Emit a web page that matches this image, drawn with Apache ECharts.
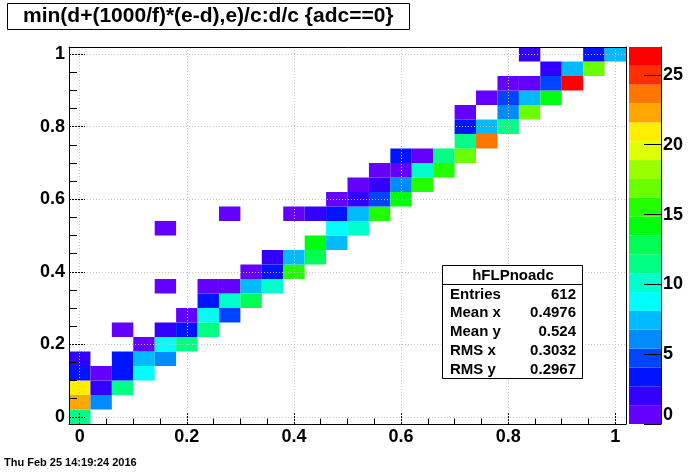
<!DOCTYPE html>
<html><head><meta charset="utf-8">
<script src="https://cdn.jsdelivr.net/npm/echarts@6.0.0/dist/echarts.min.js"></script>
<style>html,body{margin:0;padding:0;background:#fff}#c{width:696px;height:472px}</style>
</head><body><div id="c"></div>
<script>
const histName = 'hFLPnoadc';
const titleText = 'min(d+(1000/f)*(e-d),e)/c:d/c {adc==0}';
const dateText = 'Thu Feb 25 14:19:24 2016';
const binWidth = 0.04;
const axisMin = -0.02, axisMax = 1.02;
const xTickValues = [0, 0.2, 0.4, 0.6, 0.8, 1];
const yTickValues = [0, 0.2, 0.4, 0.6, 0.8, 1];
const minorTickValues = [0.05, 0.1, 0.15, 0.25, 0.3, 0.35, 0.45, 0.5, 0.55, 0.65, 0.7, 0.75, 0.85, 0.9, 0.95];

// filled bins: bin centre x, bin centre y, count (row by row, bottom to top)
const cellX = [
  0,
  0, 0.04,
  0, 0.04, 0.08,
  0, 0.04, 0.08, 0.12,
  0, 0.08, 0.12, 0.16,
  0.12, 0.16, 0.20,
  0.08, 0.16, 0.20, 0.24,
  0.20, 0.24, 0.28,
  0.24, 0.28, 0.32,
  0.16, 0.24, 0.28, 0.32, 0.36,
  0.32, 0.36, 0.40,
  0.36, 0.40, 0.44,
  0.44, 0.48,
  0.16, 0.48, 0.52,
  0.28, 0.40, 0.44, 0.48, 0.52, 0.56,
  0.48, 0.52, 0.56, 0.60,
  0.52, 0.56, 0.60, 0.64,
  0.56, 0.60, 0.64, 0.68,
  0.60, 0.64, 0.68, 0.72,
  0.72, 0.76,
  0.72, 0.76, 0.80,
  0.72, 0.80, 0.84,
  0.76, 0.80, 0.84, 0.88,
  0.80, 0.84, 0.88, 0.92,
  0.88, 0.92, 0.96,
  0.84, 0.96, 1.00
];
const cellY = [
  0,
  0.04, 0.04,
  0.08, 0.08, 0.08,
  0.12, 0.12, 0.12, 0.12,
  0.16, 0.16, 0.16, 0.16,
  0.20, 0.20, 0.20,
  0.24, 0.24, 0.24, 0.24,
  0.28, 0.28, 0.28,
  0.32, 0.32, 0.32,
  0.36, 0.36, 0.36, 0.36, 0.36,
  0.40, 0.40, 0.40,
  0.44, 0.44, 0.44,
  0.48, 0.48,
  0.52, 0.52, 0.52,
  0.56, 0.56, 0.56, 0.56, 0.56, 0.56,
  0.60, 0.60, 0.60, 0.60,
  0.64, 0.64, 0.64, 0.64,
  0.68, 0.68, 0.68, 0.68,
  0.72, 0.72, 0.72, 0.72,
  0.76, 0.76,
  0.80, 0.80, 0.80,
  0.84, 0.84, 0.84,
  0.88, 0.88, 0.88, 0.88,
  0.92, 0.92, 0.92, 0.92,
  0.96, 0.96, 0.96,
  1.00, 1.00, 1.00
];
const cellCount = [
  11,
  22, 6,
  21, 2, 11,
  4, 1, 4, 9,
  2, 4, 7, 6,
  1, 9, 11,
  1, 2, 3, 11,
  1, 9, 5,
  3, 10, 13,
  1, 1, 1, 7, 10,
  1, 3, 15,
  2, 7, 13,
  14, 7,
  1, 9, 10,
  1, 1, 2, 4, 7, 15,
  1, 2, 5, 14,
  1, 2, 6, 15,
  1, 1, 10, 15,
  4, 1, 11, 17,
  11, 23,
  3, 7, 11,
  1, 6, 17,
  1, 5, 7, 14,
  1, 1, 5, 27,
  2, 7, 17,
  2, 3, 7
];

const zMin = 0, zMax = 27, nLevels = 20;
const paletteColors = [
  '#6300ff', '#3300ff', '#0014ff', '#0044ff', '#008bff',
  '#00bbff', '#00fffc', '#00ffcc', '#00ff85', '#00ff55',
  '#00ff0e', '#22ff00', '#69ff00', '#99ff00', '#e0ff00',
  '#ffee00', '#ffa700', '#ff7700', '#ff3000', '#ff0000'
];
const zTickValues = [0, 5, 10, 15, 20, 25];

const statLabels = ['Entries', 'Mean x', 'Mean y', 'RMS x', 'RMS y'];
const statValues = ['612', '0.4976', '0.524', '0.3032', '0.2967'];

const FONT = '"Liberation Sans", Arial, Helvetica, sans-serif';
const levelWidth = (zMax - zMin) / nLevels;
function colorOf(v) {
  let k = Math.floor((v - zMin) / levelWidth);
  k = Math.max(0, Math.min(nLevels - 1, k));
  return paletteColors[k];
}
const cellData = cellX.map((x, k) => [x, cellY[k], cellCount[k]]);
const levelData = paletteColors.map((c, k) => [zMin + k * levelWidth, zMin + (k + 1) * levelWidth, k]);

const gridLine = { show: true, lineStyle: { color: '#c4c4c4', type: [1, 2], width: 1 } };
const labelFont = { fontFamily: FONT, fontWeight: 'bold', fontSize: 18, color: '#000' };

const chart = echarts.init(document.getElementById('c'), null, { renderer: 'canvas' });

const statGraphics = [];
statGraphics.push({ type: 'rect', shape: { x: 442.5, y: 265.5, width: 140, height: 113 }, style: { fill: '#fff', stroke: '#000', lineWidth: 1 }, z: 100 });
statGraphics.push({ type: 'line', shape: { x1: 442.5, y1: 284.5, x2: 582.5, y2: 284.5 }, style: { stroke: '#000', lineWidth: 1 }, z: 101 });
statGraphics.push({ type: 'text', x: 513, y: 275.5, z: 101, style: { text: histName, fill: '#000', font: 'bold 15px ' + FONT, align: 'center', verticalAlign: 'middle' } });
statLabels.forEach((lab, k) => {
  const yy = 294.5 + k * 18.8;
  statGraphics.push({ type: 'text', x: 450, y: yy, z: 101, style: { text: lab, fill: '#000', font: 'bold 15px ' + FONT, align: 'left', verticalAlign: 'middle' } });
  statGraphics.push({ type: 'text', x: 576, y: yy, z: 101, style: { text: statValues[k], fill: '#000', font: 'bold 15px ' + FONT, align: 'right', verticalAlign: 'middle' } });
});
statGraphics.push({ type: 'text', x: 4, y: 463, z: 101, style: { text: dateText, fill: '#000', font: 'bold 11px ' + FONT, align: 'left', verticalAlign: 'middle' } });

const option = {
  animation: false,
  backgroundColor: '#fff',
  title: {
    text: titleText, left: 7, top: 3, padding: [2, 16],
    borderColor: '#000', borderWidth: 1, backgroundColor: '#fff',
    textStyle: { fontFamily: FONT, fontWeight: 'bold', fontSize: 21, lineHeight: 23, color: '#000' }
  },
  grid: [
    { left: 69, right: 70, top: 47, bottom: 48 },
    { left: 629, right: 35, top: 47, bottom: 48 }
  ],
  xAxis: [
    { gridIndex: 0, type: 'value', min: axisMin, max: axisMax, position: 'bottom', z: 3,
      axisLine: { show: true, onZero: false, lineStyle: { color: '#000', width: 1 } },
      axisTick: { show: true, inside: true, length: 11, customValues: xTickValues, lineStyle: { color: '#000', type: [2, 1] } },
      axisLabel: Object.assign({ customValues: xTickValues, margin: 4 }, labelFont),
      splitLine: gridLine },
    { gridIndex: 0, type: 'value', min: axisMin, max: axisMax, position: 'bottom', z: 3,
      axisLine: { show: false, onZero: false },
      axisTick: { show: true, inside: true, length: 5.5, customValues: minorTickValues, lineStyle: { color: '#000' } },
      axisLabel: { show: false }, splitLine: { show: false } },
    { gridIndex: 0, type: 'value', min: axisMin, max: axisMax, position: 'top', z: 4,
      axisLine: { show: true, onZero: false, lineStyle: { color: '#000' } },
      axisTick: { show: false }, axisLabel: { show: false }, splitLine: { show: false } },
    { gridIndex: 1, type: 'value', min: 0, max: 1, show: false }
  ],
  yAxis: [
    { gridIndex: 0, type: 'value', min: axisMin, max: axisMax, position: 'left', z: 3,
      axisLine: { show: true, onZero: false, lineStyle: { color: '#000', width: 1 } },
      axisTick: { show: true, inside: true, length: 16, customValues: yTickValues, lineStyle: { color: '#000', type: [2, 1] } },
      axisLabel: Object.assign({ customValues: yTickValues, margin: 4 }, labelFont),
      splitLine: gridLine },
    { gridIndex: 0, type: 'value', min: axisMin, max: axisMax, position: 'left', z: 3,
      axisLine: { show: false, onZero: false },
      axisTick: { show: true, inside: true, length: 8, customValues: minorTickValues, lineStyle: { color: '#000' } },
      axisLabel: { show: false }, splitLine: { show: false } },
    { gridIndex: 0, type: 'value', min: axisMin, max: axisMax, position: 'right', z: 4,
      axisLine: { show: true, onZero: false, lineStyle: { color: '#000' } },
      axisTick: { show: false }, axisLabel: { show: false }, splitLine: { show: false } },
    { gridIndex: 1, type: 'value', min: zMin, max: zMax, position: 'right', z: 5,
      axisLine: { show: true, onZero: false, lineStyle: { color: '#000' } },
      axisTick: { show: true, inside: true, length: 17, customValues: zTickValues, lineStyle: { color: '#000' } },
      axisLabel: Object.assign({ customValues: zTickValues, margin: 2, verticalAlignMinLabel: 'bottom' }, labelFont),
      splitLine: { show: false } }
  ],
  series: [
    {
      type: 'custom', xAxisIndex: 0, yAxisIndex: 0, data: cellData, z: 2,
      renderItem: function (params, api) {
        const x = api.value(0), y = api.value(1), n = api.value(2);
        const p0 = api.coord([x - binWidth / 2, y + binWidth / 2]);
        const p1 = api.coord([x + binWidth / 2, y - binWidth / 2]);
        return { type: 'rect', shape: { x: p0[0], y: p0[1], width: p1[0] - p0[0], height: p1[1] - p0[1] },
                 style: { fill: colorOf(n), stroke: null } };
      }
    },
    {
      type: 'custom', xAxisIndex: 3, yAxisIndex: 3, data: levelData, z: 2,
      renderItem: function (params, api) {
        const lo = api.value(0), hi = api.value(1), k = api.value(2);
        const p0 = api.coord([0, hi]);
        const p1 = api.coord([1, lo]);
        return { type: 'rect', shape: { x: p0[0], y: p0[1], width: p1[0] - p0[0], height: p1[1] - p0[1] },
                 style: { fill: paletteColors[k], stroke: null } };
      }
    }
  ],
  graphic: statGraphics
};
chart.setOption(option);
</script>
</body></html>
